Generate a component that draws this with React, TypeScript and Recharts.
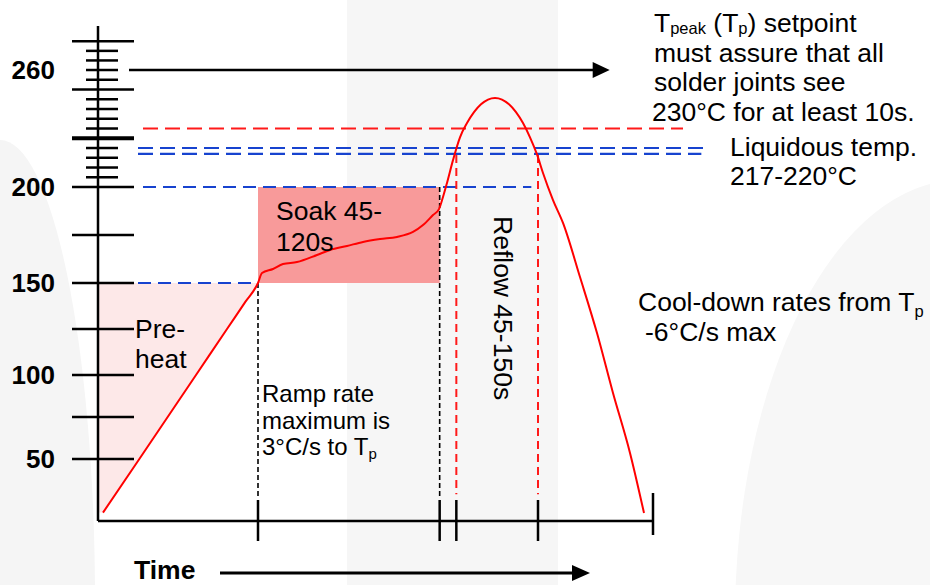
import React from 'react';
import {
  ComposedChart,
  Line,
  Area,
  XAxis,
  YAxis,
  ReferenceLine,
  ReferenceArea,
  ReferenceDot,
} from 'recharts';

const FONT = '"Liberation Sans", Arial, Helvetica, sans-serif';

// ---- axes -------------------------------------------------------------
const TIME_DOMAIN: [number, number] = [0, 333];
const TIME_TICKS = [96, 205, 215, 264, 333];
const TEMP_DOMAIN: [number, number] = [13, 283];
const TEMP_TICKS = [
  50, 75, 100, 125, 150, 175, 200, 205, 210, 215, 220, 225, 230, 235, 240, 245,
  250, 255, 260, 265, 270, 275,
];
const TEMP_LABELS = [50, 100, 150, 200, 260];

// calibration of the (uneven) temperature axis of the original drawing
const TEMP_AXIS_VALUES = [13, 50, 100, 150, 200, 260, 283];
const TEMP_AXIS_SHARE = [0, 0.1253, 0.2949, 0.4808, 0.6747, 0.9111, 1];

// ---- reflow profile (time s, temperature °C) -----------------------------
const PROFILE_TIME = [
  3, 24.8, 58.8, 77.4, 88.6, 96, 98.4, 105, 111, 119.4, 131.4, 139.2, 149.4,
  159, 169.2, 179.4, 189, 195, 201, 204.6, 207, 209.4, 213, 217.2, 221.4,
  225.6, 229.8, 234, 238.2, 242.4, 246.6, 250.8, 255, 259.2, 263.4, 267, 273,
  279, 289.2, 299.4, 309, 319.2, 327.6,
];
const PROFILE_TEMP = [
  18, 50, 100, 125, 140, 150, 155.2, 157.3, 159.9, 160.9, 164.6, 167.2, 169.3,
  171.4, 172.9, 174, 176.6, 180.2, 185.4, 188.5, 194.8, 202.1, 213.8, 225.5,
  232.8, 238.4, 242.4, 244.8, 245.6, 244.8, 242.4, 238.4, 232.8, 225.5, 216.7,
  207.2, 193.2, 181.3, 153.1, 122.8, 89.3, 53.6, 17.8,
];

// pre-heat zone
const PREHEAT_TIME = [0, 3, 96];
const PREHEAT_LOW = [18, 18, 150];
const PREHEAT_HIGH = [150, 150, 150];

// zones / levels
const SOAK_START = 96;
const SOAK_END = 205;
const REFLOW_START = 215;
const REFLOW_END = 264;
const PREHEAT_TEMP = 150;
const SOAK_TEMP = 200;
const LIQUIDUS_LOW = 217;
const LIQUIDUS_HIGH = 220;
const TP_MIN = 230;
const TP_ARROW = 260;

// extents of the guide lines (in time / temperature units)
const GUIDE_START = 27;
const LIQ_START = 24;
const SOAK_GUIDE_END = 260;
const LIQ_LOW_END = 362;
const LIQ_HIGH_END = 367;
const TP_MIN_END = 351;
const ARROW_START = 18.6;
const ARROW_END = 298;
const ARROW_TIP = 307;
const GUIDE_BOTTOM = 27;
const REFLOW_GUIDE_TOP = 216.4;
const REFLOW_GUIDE_BOTTOM = 29;

const profileData = PROFILE_TIME.map((t, i) => ({ t, temp: PROFILE_TEMP[i] }));
const preheatData = PREHEAT_TIME.map((t, i) => ({ t, range: [PREHEAT_LOW[i], PREHEAT_HIGH[i]] }));

function makeTempScale(): any {
  let dom: number[] = [TEMP_DOMAIN[0], TEMP_DOMAIN[1]];
  let rng: number[] = [0, 1];
  const k = TEMP_AXIS_VALUES;
  const f = TEMP_AXIS_SHARE;
  const share = (v: number) => {
    let i = 0;
    while (i < k.length - 2 && v > k[i + 1]) i++;
    return f[i] + ((v - k[i]) / (k[i + 1] - k[i])) * (f[i + 1] - f[i]);
  };
  const unshare = (s: number) => {
    let i = 0;
    while (i < f.length - 2 && s > f[i + 1]) i++;
    return k[i] + ((s - f[i]) / (f[i + 1] - f[i])) * (k[i + 1] - k[i]);
  };
  const scale: any = (v: any) => rng[0] + share(Number(v)) * (rng[1] - rng[0]);
  scale.domain = function (d?: any) {
    if (d === undefined) return dom.slice();
    dom = Array.from(d as number[]).map(Number);
    return scale;
  };
  scale.range = function (r?: any) {
    if (r === undefined) return rng.slice();
    rng = Array.from(r as number[]).map(Number);
    return scale;
  };
  scale.copy = function () {
    return makeTempScale().domain(dom).range(rng);
  };
  scale.invert = function (px: number) {
    return unshare((px - rng[0]) / (rng[1] - rng[0]));
  };
  scale.ticks = function () {
    return TEMP_TICKS.slice();
  };
  scale.tickFormat = function () {
    return (v: any) => String(v);
  };
  scale.nice = function () {
    return scale;
  };
  scale.clamp = function () {
    return scale;
  };
  return scale;
}

const tempScale = makeTempScale();

const YTick = (props: any) => {
  const { x, y, payload } = props;
  const v = payload.value;
  const major = v % 25 === 0;
  return (
    <g>
      <line
        x1={major ? x - 26 : x - 12}
        x2={major ? x + 36 : x + 20}
        y1={y}
        y2={y}
        stroke="#000"
        strokeWidth={v === 225 ? 4 : 2.5}
      />
      {TEMP_LABELS.includes(v) && (
        <text
          x={x - 43}
          y={y}
          dy="0.35em"
          textAnchor="end"
          fontFamily={FONT}
          fontWeight="bold"
          fontSize={26}
          fill="#000"
        >
          {v}
        </text>
      )}
    </g>
  );
};

const XTick = (props: any) => {
  const { x, y, payload } = props;
  const end = payload.value === TIME_TICKS[TIME_TICKS.length - 1];
  return (
    <line
      x1={x}
      x2={x}
      y1={end ? y - 28 : y - 21}
      y2={end ? y + 14 : y + 20}
      stroke="#000"
      strokeWidth={2.5}
    />
  );
};

const Arrowhead = (props: any) => {
  const { cx, cy } = props;
  return <polygon points={`${cx},${cy} ${cx - 17},${cy - 8} ${cx - 17},${cy + 8}`} fill="#000" />;
};

const BLUE = '#1743cf';
const RED = '#ff1a1a';

const txt = { fontFamily: FONT, fontSize: 26.5, fill: '#000' } as const;

export default function App() {
  return (
    <div style={{ position: 'fixed', left: 0, top: 0, width: 930, height: 585, background: '#fff', overflow: 'hidden' }}>
      <svg width={930} height={585} style={{ position: 'absolute', left: 0, top: 0 }}>
        <rect x={347} y={0} width={211} height={585} fill="#f6f6f6" />
        <ellipse cx={0} cy={600} rx={95} ry={460} fill="#f5f5f5" />
        <ellipse cx={960} cy={620} rx={225} ry={440} fill="#f7f7f7" />
      </svg>
      <div style={{ position: 'absolute', left: 0, top: 0 }}>
        <ComposedChart width={930} height={585} margin={{ top: 26, right: 277, bottom: 63, left: 97 }}>
          <XAxis
            type="number"
            dataKey="t"
            domain={TIME_DOMAIN}
            allowDataOverflow
            ticks={TIME_TICKS}
            interval={0}
            tick={XTick}
            tickLine={false}
            tickSize={0}
            tickMargin={0}
            height={1}
            axisLine={{ stroke: '#000', strokeWidth: 2.5 }}
          />
          <YAxis
            type="number"
            domain={TEMP_DOMAIN}
            allowDataOverflow
            scale={tempScale}
            ticks={TEMP_TICKS}
            interval={0}
            tick={YTick}
            tickLine={false}
            tickSize={0}
            tickMargin={0}
            width={1}
            axisLine={{ stroke: '#000', strokeWidth: 2.5 }}
          />
          <Area
            data={preheatData}
            dataKey="range"
            type="linear"
            stroke="none"
            fill="#fde8e8"
            fillOpacity={1}
            dot={false}
            activeDot={false}
            isAnimationActive={false}
          />
          <ReferenceArea
            x1={SOAK_START}
            x2={SOAK_END}
            y1={PREHEAT_TEMP}
            y2={SOAK_TEMP}
            fill="#f89a9a"
            fillOpacity={1}
            stroke="none"
            ifOverflow="visible"
          />
          <ReferenceLine
            segment={[{ x: 0, y: PREHEAT_TEMP }, { x: SOAK_START, y: PREHEAT_TEMP }]}
            stroke={BLUE}
            strokeWidth={2.2}
            strokeDasharray="13 7"
            ifOverflow="visible"
          />
          <ReferenceLine
            segment={[{ x: GUIDE_START, y: SOAK_TEMP }, { x: SOAK_GUIDE_END, y: SOAK_TEMP }]}
            stroke={BLUE}
            strokeWidth={2.2}
            strokeDasharray="13 7"
            ifOverflow="visible"
          />
          <ReferenceLine
            segment={[{ x: LIQ_START, y: LIQUIDUS_HIGH }, { x: LIQ_HIGH_END, y: LIQUIDUS_HIGH }]}
            stroke={BLUE}
            strokeWidth={2.2}
            strokeDasharray="15 7"
            ifOverflow="visible"
          />
          <ReferenceLine
            segment={[{ x: LIQ_START, y: LIQUIDUS_LOW }, { x: LIQ_LOW_END, y: LIQUIDUS_LOW }]}
            stroke={BLUE}
            strokeWidth={2.2}
            strokeDasharray="15 7"
            ifOverflow="visible"
          />
          <ReferenceLine
            segment={[{ x: GUIDE_START, y: TP_MIN }, { x: TP_MIN_END, y: TP_MIN }]}
            stroke={RED}
            strokeWidth={2.2}
            strokeDasharray="15 7"
            ifOverflow="visible"
          />
          <ReferenceLine
            segment={[{ x: SOAK_START, y: PREHEAT_TEMP }, { x: SOAK_START, y: GUIDE_BOTTOM }]}
            stroke="#000"
            strokeWidth={1.6}
            strokeDasharray="5 3"
            ifOverflow="visible"
          />
          <ReferenceLine
            segment={[{ x: SOAK_END, y: SOAK_TEMP }, { x: SOAK_END, y: GUIDE_BOTTOM }]}
            stroke="#000"
            strokeWidth={1.6}
            strokeDasharray="5 3"
            ifOverflow="visible"
          />
          <ReferenceLine
            segment={[{ x: REFLOW_START, y: REFLOW_GUIDE_TOP }, { x: REFLOW_START, y: REFLOW_GUIDE_BOTTOM }]}
            stroke={RED}
            strokeWidth={2}
            strokeDasharray="8 5"
            ifOverflow="visible"
          />
          <ReferenceLine
            segment={[{ x: REFLOW_END, y: REFLOW_GUIDE_TOP }, { x: REFLOW_END, y: REFLOW_GUIDE_BOTTOM }]}
            stroke={RED}
            strokeWidth={2}
            strokeDasharray="8 5"
            ifOverflow="visible"
          />
          <ReferenceLine
            segment={[{ x: ARROW_START, y: TP_ARROW }, { x: ARROW_END, y: TP_ARROW }]}
            stroke="#000"
            strokeWidth={2.6}
            ifOverflow="visible"
          />
          <ReferenceDot x={ARROW_TIP} y={TP_ARROW} r={8} shape={Arrowhead} ifOverflow="visible" />
          <Line
            data={profileData}
            dataKey="temp"
            type="monotone"
            stroke="#ff0000"
            strokeWidth={2}
            dot={false}
            activeDot={false}
            isAnimationActive={false}
          />
        </ComposedChart>
      </div>
      <svg width={930} height={585} style={{ position: 'absolute', left: 0, top: 0, pointerEvents: 'none' }}>
        <text x={654} y={32} {...txt}>
          T<tspan fontSize={16.5} dy={2}>peak</tspan>
          <tspan dy={-2}> (T</tspan>
          <tspan fontSize={16.5} dy={2}>p</tspan>
          <tspan dy={-2}>) setpoint</tspan>
        </text>
        <text x={654} y={61.5} {...txt}>must assure that all</text>
        <text x={654} y={91} {...txt}>solder joints see</text>
        <text x={652} y={120.5} {...txt}>230°C for at least 10s.</text>
        <text x={730} y={156} {...txt}>Liquidous temp.</text>
        <text x={730} y={185} {...txt}>217-220°C</text>
        <text x={638} y={311} {...txt}>
          Cool-down rates from T<tspan fontSize={16.5} dy={6}>p</tspan>
        </text>
        <text x={645} y={341} {...txt}>-6°C/s max</text>
        <text x={135} y={338} {...txt}>Pre-</text>
        <text x={135} y={368} {...txt}>heat</text>
        <text x={276} y={220} {...txt}>Soak 45-</text>
        <text x={276} y={251} {...txt}>120s</text>
        <text x={262} y={402} {...txt} fontSize={24}>Ramp rate</text>
        <text x={262} y={428.5} {...txt} fontSize={24}>maximum is</text>
        <text x={262} y={455} {...txt} fontSize={24}>
          3°C/s to T<tspan fontSize={15} dy={4}>p</tspan>
        </text>
        <text x={494} y={216} {...txt} transform="rotate(90 494 216)">Reflow 45-150s</text>
        <text x={134} y={579} {...txt} fontWeight="bold">Time</text>
        <line x1={220} y1={573} x2={575} y2={573} stroke="#000" strokeWidth={2.8} />
        <polygon points="590,573 572,565 572,581" fill="#000" />
      </svg>
    </div>
  );
}
